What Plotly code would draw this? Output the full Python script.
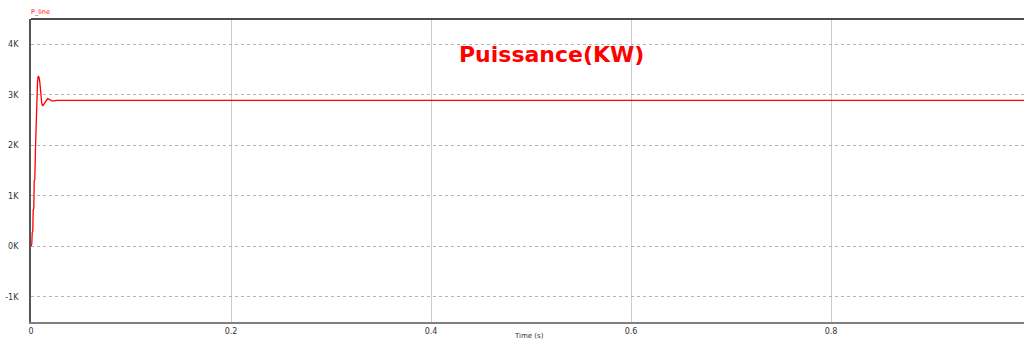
import plotly.graph_objects as go

# Simulated line power (kW) over time (s): start-up transient then steady state
time_s = [0.0, 0.0008, 0.0012, 0.0018, 0.0022, 0.0028, 0.0032, 0.0038, 0.0045,
          0.0052, 0.0058, 0.0065, 0.0072, 0.0080, 0.0088, 0.0095, 0.0100, 0.0108,
          0.0118, 0.0130, 0.0145, 0.0165, 0.0185, 0.0205, 0.0230, 0.0260, 1.0]
power_kw = [0.0, 0.05, 0.27, 0.30, 0.72, 0.75, 1.29, 1.32, 1.95,
            2.52, 2.96, 3.25, 3.37, 3.35, 3.25, 3.10, 2.95, 2.82,
            2.78, 2.82, 2.88, 2.92, 2.91, 2.88, 2.88, 2.89, 2.89]

x_ticks = [0, 0.2, 0.4, 0.6, 0.8]
x_tick_labels = ["0", "0.2", "0.4", "0.6", "0.8"]
y_ticks = [-1, 0, 1, 2, 3, 4]
y_tick_labels = ["-1K", "0K", "1K", "2K", "3K", "4K"]

tick_font = dict(family="DejaVu Sans", size=8, color="#333333")

fig = go.Figure()
fig.add_trace(go.Scatter(
    x=time_s, y=power_kw, mode="lines",
    line=dict(color="#ff0000", width=1.3),
    name="P_line", showlegend=False,
))

fig.update_layout(
    width=1024, height=342,
    margin=dict(l=31, r=0, t=19, b=20),
    paper_bgcolor="white", plot_bgcolor="white",
    xaxis=dict(
        range=[0, 0.993],
        tickvals=x_ticks, ticktext=x_tick_labels,
        showgrid=True, gridcolor="#cccccc", gridwidth=1,
        showline=True, linecolor="#808080", linewidth=2,
        ticks="", tickfont=tick_font, zeroline=False,
    ),
    yaxis=dict(
        range=[-1.5, 4.5],
        tickvals=y_ticks, ticktext=y_tick_labels,
        showgrid=True, gridcolor="#b4b4b4", gridwidth=1, griddash="dot",
        showline=True, linecolor="#555555", linewidth=2,
        ticks="", ticklabelstandoff=9, tickfont=tick_font, zeroline=False,
    ),
    shapes=[dict(type="line", xref="paper", yref="paper",
                 x0=0, x1=1, y0=1, y1=1,
                 line=dict(color="#111111", width=1.5))],
    annotations=[
        dict(text="P_line", xref="paper", yref="paper", x=0, y=1,
             xanchor="left", yanchor="bottom", xshift=-2, yshift=1,
             showarrow=False,
             font=dict(family="DejaVu Sans", size=6.5, color="#ff0000")),
        dict(text="<b>Puissance(KW)</b>", xref="paper", yref="paper",
             x=0.524, y=1, xanchor="center", yanchor="middle", yshift=-35,
             showarrow=False,
             font=dict(family="DejaVu Sans", size=22, color="#ff0000")),
        dict(text="Time (s)", xref="paper", yref="paper", x=0.502, y=0,
             xanchor="center", yanchor="middle", yshift=-14,
             showarrow=False,
             font=dict(family="DejaVu Sans", size=7, color="#333333")),
    ],
)

fig.write_html("out.html")
